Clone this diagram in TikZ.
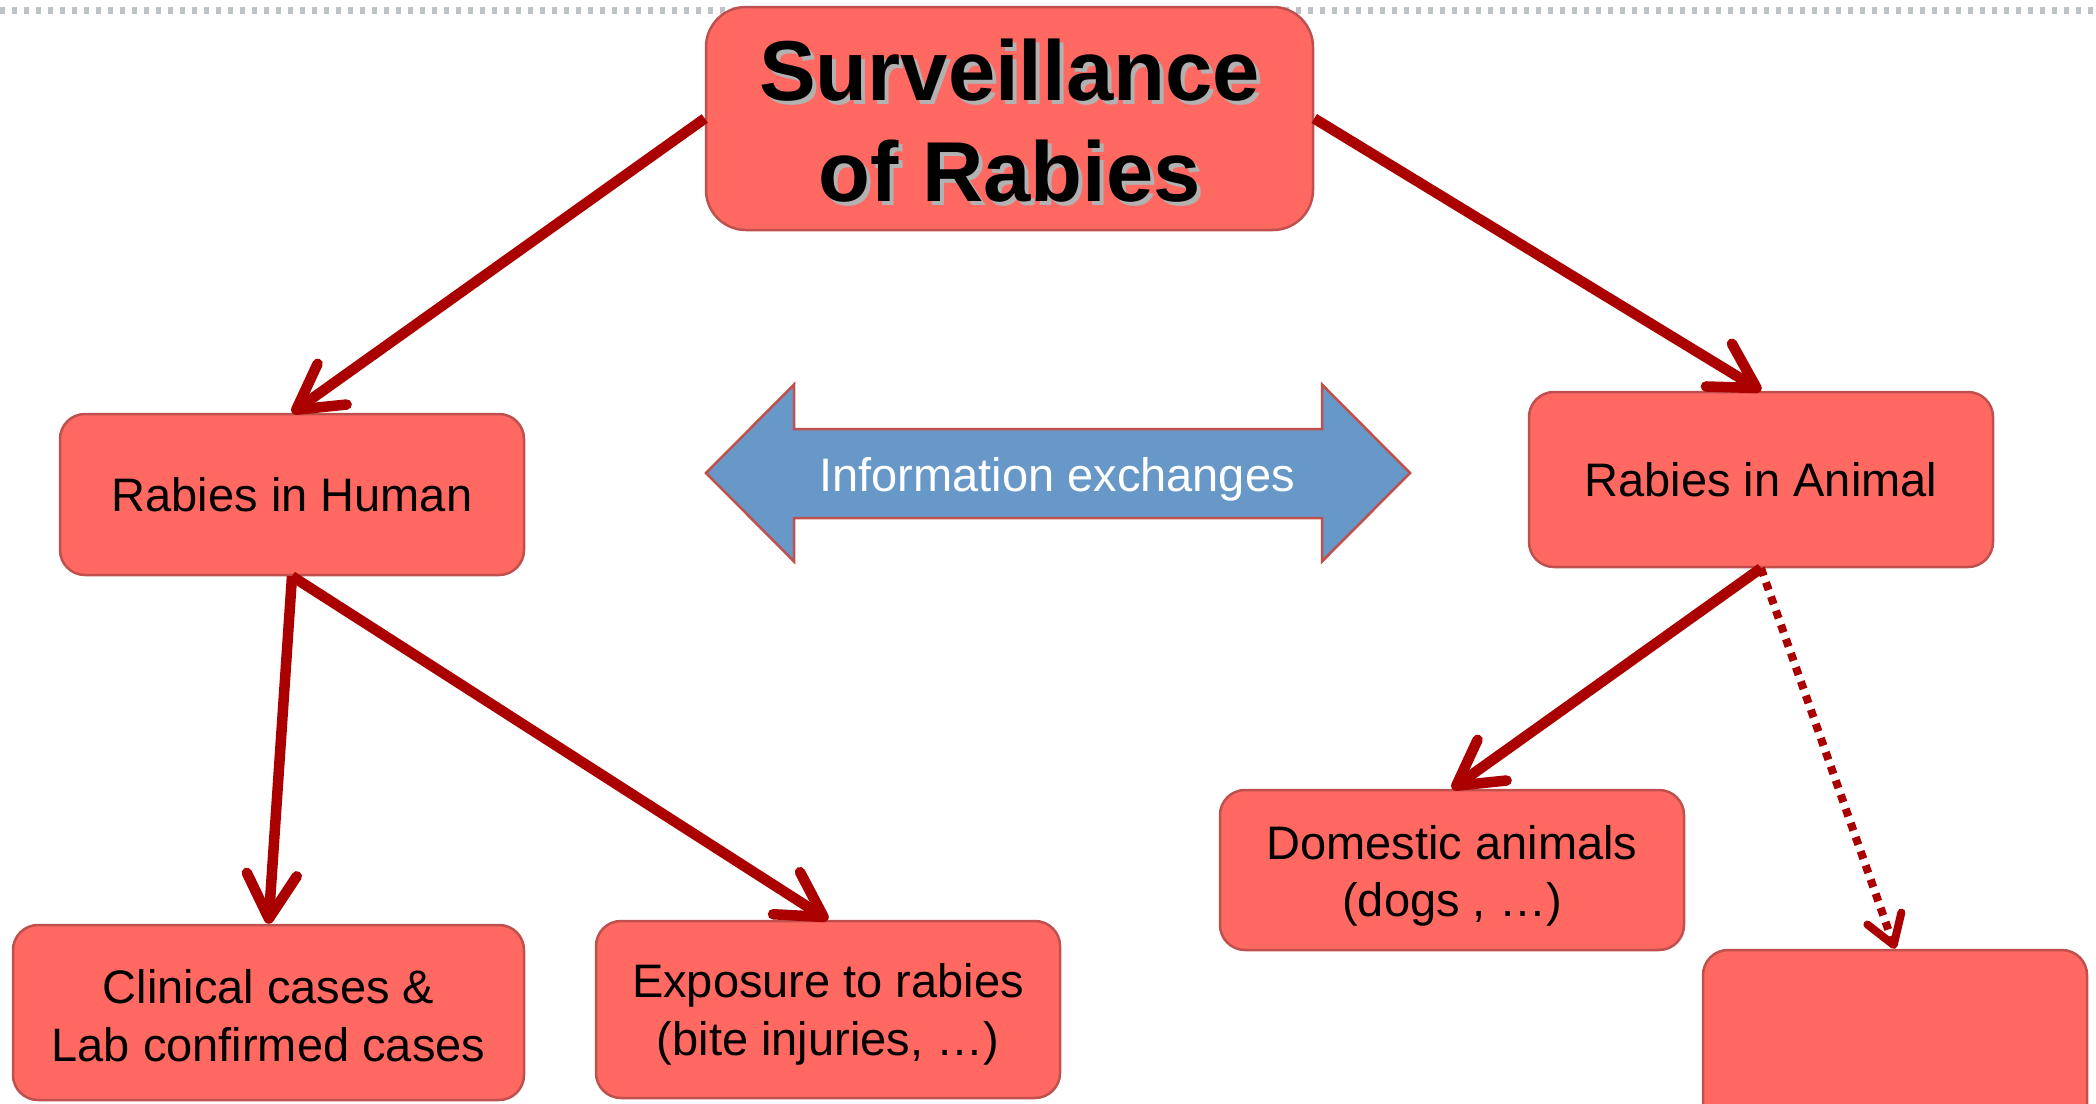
\documentclass[tikz,border=0pt]{standalone}
\usepackage{fontspec}
\setmainfont{Liberation Sans}
\usetikzlibrary{arrows.meta}

\definecolor{boxfill}{RGB}{255,105,97}
\definecolor{boxline}{RGB}{192,80,77}
\definecolor{arrowred}{RGB}{170,0,0}
\definecolor{infoblue}{RGB}{104,152,200}
\definecolor{rulegrey}{RGB}{190,195,200}

% text with a soft grey drop shadow behind it
\newcommand\shadowed[1]{\makebox[0pt][l]{\hspace{4pt}\raisebox{-4pt}{\textcolor{black!30}{#1}}}#1}
% extra room above the first line of a multi-line label
\newcommand\firstline[1]{\rule{0pt}{#1}}

\begin{document}
\begin{tikzpicture}[x=1pt,y=-1pt,
  box/.style={draw=boxline, line width=2.5pt, fill=boxfill, rounded corners=25pt,
    inner sep=0pt, align=center, font=\fontsize{47}{57.5}\selectfont},
  link/.style={draw=arrowred, line width=10.5pt,
    -{Straight Barb[length=44pt,width=50pt,round]}},
  maybelink/.style={draw=arrowred, line width=8pt, dash pattern=on 8pt off 7pt,
    -{Straight Barb[length=28pt,width=36pt,round]}},
]
\useasboundingbox (0,0) rectangle (2096,1103);

% dotted rule along the top edge
\coordinate (ruleL) at (0,10);
\coordinate (ruleR) at (2096,10);
\draw[rulegrey, line width=7pt, dash pattern=on 5pt off 7pt] (ruleL) -- (ruleR);

% boxes
\node[box, rounded corners=40pt, minimum width=607pt, minimum height=223pt,
  font=\fontsize{85}{101}\selectfont\bfseries] (title) at (1009.5,118.5)
  {\firstline{69pt}\shadowed{Surveillance}\\\shadowed{of Rabies}};
\node[box, minimum width=464pt, minimum height=161pt] (human) at (292,494.5) {Rabies in Human};
\node[box, minimum width=464pt, minimum height=175pt] (animal) at (1761,479.5) {Rabies in Animal};
\node[box, minimum width=511pt, minimum height=175pt] (clinical) at (268.5,1012.5)
  {\firstline{40pt}Clinical cases \&\\Lab confirmed cases};
\node[box, minimum width=464pt, minimum height=177pt] (exposure) at (828,1009.5)
  {\firstline{44pt}Exposure to rabies\\(bite injuries, …)};
\node[box, minimum width=464pt, minimum height=160pt] (domestic) at (1452,870)
  {\firstline{46pt}Domestic animals\\(dogs , …)};
\node[box, minimum width=384pt, minimum height=190pt] (extra) at (1895,1045) {};

% two-headed block arrow between the branches
\draw[fill=infoblue, draw=boxline, line width=2.5pt, line join=miter]
  (706,473) -- (794,384.5) -- (794,429) -- (1322,429) -- (1322,384.5)
  -- (1410,473) -- (1322,561.5) -- (1322,518) -- (794,518) -- (794,561.5) -- cycle;
\node[text=white, font=\fontsize{47}{57}\selectfont] (info) at (1057,479) {Information exchanges};

% connectors
\draw[link] (title.west) -- (human.north);
\draw[link] (title.east) -- (animal.north);
\draw[link] (human.south) -- (clinical.north);
\draw[link] (human.south) -- (exposure.north);
\draw[link] (animal.south) -- (domestic.north);
\draw[maybelink] (animal.south) -- (extra.north);
\end{tikzpicture}
\end{document}
